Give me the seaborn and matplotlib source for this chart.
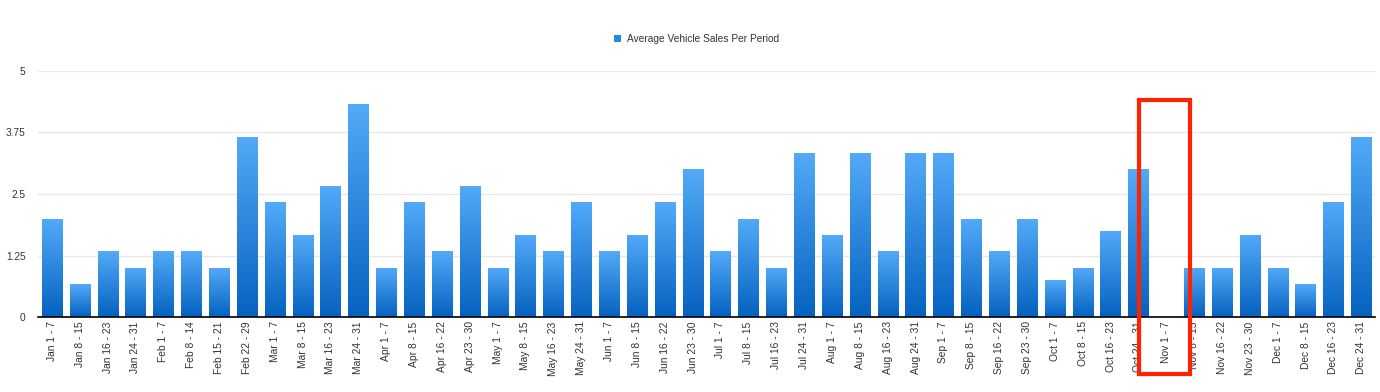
import numpy as np
import pandas as pd
import seaborn as sns
import matplotlib.pyplot as plt
from matplotlib.colors import LinearSegmentedColormap
from matplotlib.patches import Patch, Rectangle
from matplotlib.transforms import blended_transform_factory

periods = [
    "Jan 1 - 7", "Jan 8 - 15", "Jan 16 - 23", "Jan 24 - 31",
    "Feb 1 - 7", "Feb 8 - 14", "Feb 15 - 21", "Feb 22 - 29",
    "Mar 1 - 7", "Mar 8 - 15", "Mar 16 - 23", "Mar 24 - 31",
    "Apr 1 - 7", "Apr 8 - 15", "Apr 16 - 22", "Apr 23 - 30",
    "May 1 - 7", "May 8 - 15", "May 16 - 23", "May 24 - 31",
    "Jun 1 - 7", "Jun 8 - 15", "Jun 16 - 22", "Jun 23 - 30",
    "Jul 1 - 7", "Jul 8 - 15", "Jul 16 - 23", "Jul 24 - 31",
    "Aug 1 - 7", "Aug 8 - 15", "Aug 16 - 23", "Aug 24 - 31",
    "Sep 1 - 7", "Sep 8 - 15", "Sep 16 - 22", "Sep 23 - 30",
    "Oct 1 - 7", "Oct 8 - 15", "Oct 16 - 23", "Oct 24 - 31",
    "Nov 1 - 7", "Nov 8 - 15", "Nov 16 - 22", "Nov 23 - 30",
    "Dec 1 - 7", "Dec 8 - 15", "Dec 16 - 23", "Dec 24 - 31",
]

avg_sales = [
    2, 2/3, 4/3, 1,
    4/3, 4/3, 1, 11/3,
    7/3, 5/3, 8/3, 13/3,
    1, 7/3, 4/3, 8/3,
    1, 5/3, 4/3, 7/3,
    4/3, 5/3, 7/3, 3,
    4/3, 2, 1, 10/3,
    5/3, 10/3, 4/3, 10/3,
    10/3, 2, 4/3, 2,
    0.75, 1, 1.75, 3,
    0, 1, 1, 5/3,
    1, 2/3, 7/3, 11/3,
]

y_ticks = [0, 1.25, 2.5, 3.75, 5]
y_tick_labels = ["0", "1.25", "2.5", "3.75", "5"]
series_name = "Average Vehicle Sales Per Period"
highlight = "Nov 1 - 7"

df = pd.DataFrame({"period": periods, "sales": avg_sales})

sns.set_style("white")
plt.rcParams["font.family"] = ["Liberation Sans", "DejaVu Sans"]

fig = plt.figure(figsize=(13.8, 3.92), dpi=100)
ax = fig.add_axes([0.0275, 0.191, 0.969, 0.628])

sns.barplot(data=df, x="period", y="sales", color="#2a86e0", width=0.72,
            saturation=1, ax=ax)

# vertical gradient on each bar, light on top, dark at the base
grad_cmap = LinearSegmentedColormap.from_list("bluegrad", ["#0562c0", "#53aaf8"])
grad = np.linspace(0, 1, 256).reshape(-1, 1)
for p in ax.patches:
    h = p.get_height()
    if h <= 0:
        continue
    x0 = p.get_x()
    w = p.get_width()
    p.set_facecolor("none")
    p.set_edgecolor("none")
    im = ax.imshow(grad, extent=[x0, x0 + w, 0, h], origin="lower",
                   aspect="auto", cmap=grad_cmap, zorder=2)
    im.set_clip_path(p)

ax.set_xlim(-0.5, len(periods) - 0.5)
ax.set_ylim(0, 5)
ax.set_yticks(y_ticks)
ax.set_yticklabels(y_tick_labels)
ax.set_xlabel("")
ax.set_ylabel("")

ax.yaxis.grid(True, color="#e8e8e8", linewidth=1)
ax.set_axisbelow(True)
for s in ["top", "right", "left"]:
    ax.spines[s].set_visible(False)
ax.spines["bottom"].set_color("black")
ax.spines["bottom"].set_linewidth(1.2)

ax.tick_params(axis="y", length=0, pad=9, labelsize=7.3, labelcolor="#333333")
ax.tick_params(axis="x", length=0, pad=3, labelsize=7.4, labelcolor="#333333",
               rotation=90)

# legend at the top
handle = Patch(facecolor="#2a86e0", edgecolor="none")
fig.legend([handle], [series_name], loc="center", bbox_to_anchor=(0.505, 0.9),
           frameon=False, fontsize=7.3, handlelength=0.7, handleheight=0.7,
           handletextpad=0.6, labelcolor="#333333")

# red highlight box around the empty period
idx = periods.index(highlight)
trans = blended_transform_factory(ax.transData, ax.transAxes)
box = Rectangle((idx - 0.96, -0.232), 1.8, 0.884 + 0.232, transform=trans,
                fill=False, edgecolor="#ff2200", linewidth=3, clip_on=False,
                zorder=5)
ax.add_patch(box)

fig.savefig("out.png", dpi=100)
